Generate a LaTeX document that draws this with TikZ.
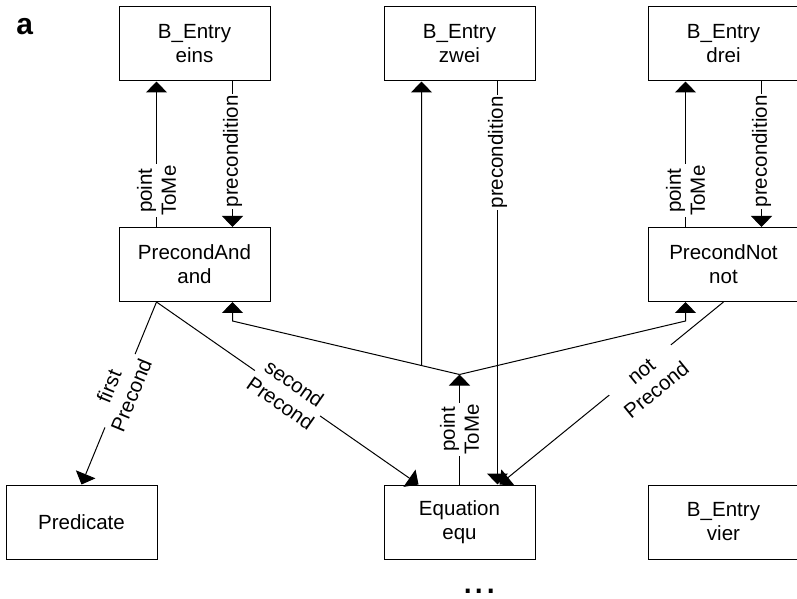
\documentclass[tikz,border=0pt]{standalone}
\usepackage{fontspec}
\setmainfont{Liberation Sans}
\usetikzlibrary{arrows.meta,calc}
\begin{document}
\begin{tikzpicture}[x=0.75pt,y=-0.75pt,
  every node/.style={font=\fontsize{15.4pt}{18pt}\selectfont},
  entity/.style={draw, line width=0.75pt, minimum width=113.25pt,
    minimum height=55.5pt, align=center, inner sep=0pt},
  link/.style={line width=0.75pt, -{Triangle[length=8.25pt,width=15.75pt]}},
  lab/.style={fill=white, inner sep=1pt, align=center}
]
\useasboundingbox (0,0) rectangle (797,599);

% entities
\node[entity] (E1) at (194.5,44)  {B\_Entry\\eins};
\node[entity] (E2) at (459.5,44)  {B\_Entry\\zwei};
\node[entity] (E3) at (723.5,44)  {B\_Entry\\drei};
\node[entity] (PA) at (194.5,264.5) {PrecondAnd\\and};
\node[entity] (PN) at (723.5,264.5) {PrecondNot\\not};
\node[entity] (PR) at (81.5,522)  {Predicate};
\node[entity] (EQ) at (459.5,522) {Equation\\equ};
\node[entity] (E4) at (723.5,522) {B\_Entry\\vier};

\node[font=\fontsize{22.5pt}{27pt}\selectfont\bfseries, anchor=base west, inner sep=0pt] (tag) at (16,35) {a};
\node[font=\fontsize{30.75pt}{36pt}\selectfont, anchor=base west, inner sep=0pt] (more) at (462,593) {...};

% attachment points on the box edges
\coordinate (E1a) at ($(E1.south west)!.25!(E1.south east)$);
\coordinate (E1b) at ($(E1.south west)!.75!(E1.south east)$);
\coordinate (E2a) at ($(E2.south west)!.25!(E2.south east)$);
\coordinate (E2b) at ($(E2.south west)!.75!(E2.south east)$);
\coordinate (E3a) at ($(E3.south west)!.25!(E3.south east)$);
\coordinate (E3b) at ($(E3.south west)!.75!(E3.south east)$);
\coordinate (PAa) at ($(PA.north west)!.25!(PA.north east)$);
\coordinate (PAb) at ($(PA.north west)!.75!(PA.north east)$);
\coordinate (PNa) at ($(PN.north west)!.25!(PN.north east)$);
\coordinate (PNb) at ($(PN.north west)!.75!(PN.north east)$);
\coordinate (PAs) at ($(PA.south west)!.25!(PA.south east)$);
\coordinate (PAt) at ($(PA.south west)!.75!(PA.south east)$);
\coordinate (PNt) at ($(PN.south west)!.25!(PN.south east)$);
\coordinate (EQa) at ($(EQ.north west)+(35,0)$);
\coordinate (EQb) at ($(EQ.north west)!.75!(EQ.north east)$);
\coordinate (EQc) at ($(EQ.north west)+(116,0)$);

% fan-out point of the pointToMe reference from the equation
\coordinate (J)  at ($(EQ.north)+(0,-110)$);
\coordinate (JA) at ($(PAt)+(0,19)$);
\coordinate (JN) at ($(PNt)+(0,19)$);
\coordinate (E2down) at ($(E2a)+(0,300)$);
\coordinate (JZ) at (intersection of J--JA and E2a--E2down);

% eins / and
\draw[link] (PAa) -- node[lab,rotate=90,pos=.25]{point\\ToMe} (E1a);
\draw[link] (E1b) -- node[lab,rotate=90,pos=.48]{precondition} (PAb);

% drei / not
\draw[link] (PNa) -- node[lab,rotate=90,pos=.25]{point\\ToMe} (E3a);
\draw[link] (E3b) -- node[lab,rotate=90,pos=.48]{precondition} (PNb);

% zwei
\draw[link] (E2b) -- node[lab,rotate=90,pos=.176]{precondition} (EQb);

% equation pointToMe and its targets
\draw[link] (EQ.north) -- node[lab,rotate=90]{point\\ToMe} (J);
\draw[link] (J) -- (JA) -- (PAt);
\draw[link] (J) -- (JN) -- (PNt);
\draw[link] (JZ) -- (E2a);

% operand links
\draw[link] (PAs) -- node[lab,sloped,xshift=2pt]{first\\Precond} (PR.north);
\draw[link] (PAs) -- node[lab,sloped,pos=.5]{second\\Precond} (EQa);
\draw[link] (PN.south) -- node[lab,sloped,pos=.377,xshift=1pt,yshift=-10.7pt]{not\\Precond} (EQc);
\end{tikzpicture}
\end{document}
